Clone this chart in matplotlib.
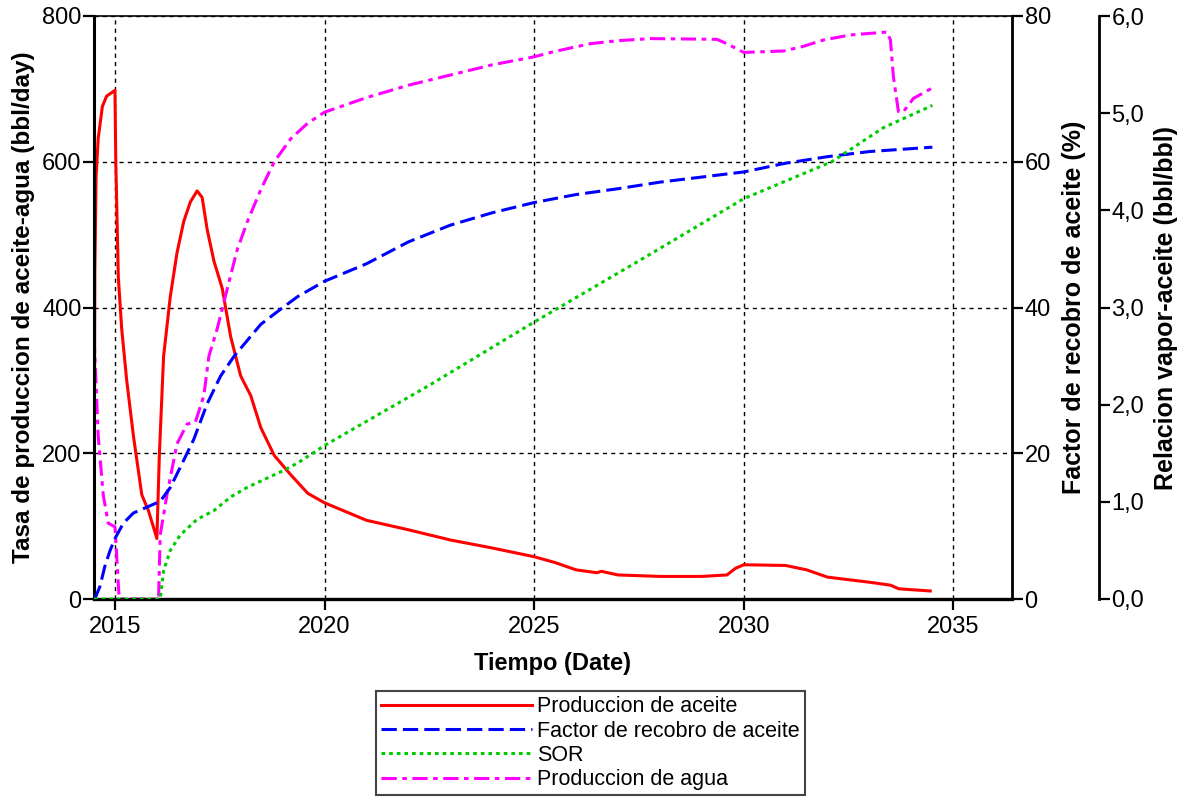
import matplotlib
matplotlib.use("agg")
import matplotlib.pyplot as plt
from matplotlib.ticker import FuncFormatter

plt.rcParams['font.family'] = ['Liberation Sans', 'DejaVu Sans']

# oil production (bbl/day), left axis
oil_t = [2014.5, 2014.52, 2014.55, 2014.6, 2014.7, 2014.8, 2014.9, 2015.0, 2015.02, 2015.08,
         2015.16, 2015.28, 2015.44, 2015.64, 2015.8, 2016.0, 2016.06, 2016.16, 2016.32, 2016.48,
         2016.64, 2016.8, 2016.96, 2017.08, 2017.2, 2017.36, 2017.56, 2017.76, 2018.0, 2018.24,
         2018.48, 2018.8, 2019.2, 2019.6, 2020.0, 2020.5, 2021, 2022, 2023, 2024,
         2025, 2025.5, 2026, 2026.5, 2026.6, 2027, 2028, 2029, 2029.6, 2029.8,
         2030, 2031, 2031.5, 2032, 2033, 2033.5, 2033.7, 2034.45]
oil_q = [0, 450, 580, 632, 676, 690, 694, 698, 600, 442,
         371, 300, 224, 143, 121, 83, 199, 333, 415, 475,
         518, 545, 560, 551, 507, 464, 426, 360, 306, 279,
         235, 197, 170, 145, 132, 120, 108, 95, 81, 70,
         58, 50, 40, 36, 38, 33, 31, 31, 33, 42,
         47, 46, 40, 30, 23, 19, 14, 11]

# water production (bbl/day), left axis
wat_t = [2014.5, 2014.51, 2014.6, 2014.72, 2014.84, 2015.0, 2015.04, 2015.1, 2016.04, 2016.08,
         2016.24, 2016.48, 2016.72, 2016.92, 2017.12, 2017.24, 2017.44, 2017.68, 2017.92, 2018.16,
         2018.48, 2018.8, 2019.2, 2019.6, 2020.0, 2021, 2022, 2023, 2024, 2025,
         2025.46, 2026.34, 2026.97, 2027.77, 2029.36, 2029.6, 2030.0, 2030.95, 2031.4, 2031.9,
         2032.54, 2033.42, 2033.5, 2033.57, 2033.69, 2033.8, 2034.05, 2034.49]
wat_q = [0, 349, 224, 143, 104, 99, 61, 0, 0, 88,
         143, 213, 240, 243, 279, 333, 371, 426, 480, 518,
         562, 600, 632, 653, 668, 688, 705, 719, 733, 744,
         751, 762, 766, 769, 768, 762, 750, 752, 758, 767,
         774, 778, 767, 717, 669, 668, 687, 701]

# recovery factor (%)
fr_t = [2014.5, 2014.52, 2014.64, 2014.76, 2014.88, 2015.0, 2015.2, 2015.44, 2015.76, 2016.08,
        2016.32, 2016.56, 2016.88, 2017.2, 2017.52, 2017.84, 2018.16, 2018.48, 2018.96, 2019.36,
        2020.0, 2021, 2022, 2023, 2024, 2025, 2026, 2027, 2028, 2029,
        2030, 2031, 2032, 2033, 2034.5]
fr_v = [0, 0, 1.7, 4.5, 6.6, 8.3, 10.4, 11.8, 12.6, 13.4,
        15.3, 18.1, 21.9, 26.8, 30.6, 33.3, 35.5, 37.7, 39.8, 41.5,
        43.6, 46.0, 49.0, 51.3, 53.0, 54.4, 55.5, 56.3, 57.2, 57.9,
        58.6, 59.8, 60.7, 61.4, 62.0]

# steam-oil ratio (bbl/bbl)
sor_t = [2014.5, 2016.08, 2016.16, 2016.32, 2016.56, 2016.96, 2017.36, 2017.76, 2018.16, 2018.56,
         2018.96, 2019.36, 2020.0, 2022.5, 2025.0, 2027.5, 2030.0, 2032.1, 2033.33, 2034.5]
sor_v = [0, 0, 0.29, 0.50, 0.66, 0.82, 0.91, 1.05, 1.15, 1.23,
         1.31, 1.40, 1.58, 2.2, 2.85, 3.48, 4.12, 4.5, 4.85, 5.08]

xticks = [2015, 2020, 2025, 2030, 2035]

fig = plt.figure(figsize=(11.88, 8.01), dpi=100)
ax = fig.add_axes([94/1188, 1-599/801, (1012-94)/1188, (599-16)/801])
ax2 = ax.twinx()
ax3 = ax.twinx()

l1, = ax.plot(oil_t, oil_q, color='#ff0000', lw=2.2, label='Produccion de aceite')
l4, = ax.plot(wat_t, wat_q, color='#ff00ff', lw=2.2, ls=(0, (5, 1.8, 1.5, 1.8)), label='Produccion de agua')
l2, = ax2.plot(fr_t, fr_v, color='#0000ff', lw=2.2, ls=(0, (5, 2)), label='Factor de recobro de aceite')
l3, = ax3.plot(sor_t, sor_v, color='#00cc00', lw=2.2, ls=(0, (1.2, 1.3)), label='SOR')

ax.set_xlim(2014.5, 2036.4)
ax.set_ylim(0, 800)
ax2.set_ylim(0, 80)
ax3.set_ylim(0, 6)
ax.set_xticks(xticks)
ax.set_yticks([0, 200, 400, 600, 800])
ax2.set_yticks([0, 20, 40, 60, 80])
ax3.set_yticks([0, 1, 2, 3, 4, 5, 6])
ax3.yaxis.set_major_formatter(FuncFormatter(lambda v, p: ('%.1f' % v).replace('.', ',')))

ax.grid(True, color='black', ls=(0, (3, 3)), lw=1)
ax.set_axisbelow(True)

ax3.spines['right'].set_position(('axes', 1.0948))
for s in ['top', 'left', 'bottom']:
    ax3.spines[s].set_visible(False)
    ax2.spines[s].set_visible(False)
ax.spines['left'].set_linewidth(2.2)
ax.spines['bottom'].set_linewidth(2.4)
ax.spines['top'].set_linewidth(1.2)
ax2.spines['right'].set_linewidth(2)
ax3.spines['right'].set_linewidth(2)

ax.tick_params(axis='x', direction='out', length=8, width=1.6, labelsize=17, pad=4)
ax.tick_params(axis='y', direction='out', length=8, width=1.6, labelsize=17, pad=1)
ax2.tick_params(axis='y', direction='out', length=8, width=1.6, labelsize=17, pad=1)
ax3.tick_params(axis='y', direction='out', length=8, width=1.6, labelsize=17, pad=1)

ax.set_xlabel('Tiempo (Date)', fontsize=17, fontweight='bold', labelpad=10)
ax.set_ylabel('Tasa de produccion de aceite-agua (bbl/day)', fontsize=17.5, fontweight='bold', labelpad=5)
ax2.set_ylabel('Factor de recobro de aceite (%)', fontsize=18, fontweight='bold', labelpad=8)
ax3.set_ylabel('Relacion vapor-aceite (bbl/bbl)', fontsize=18, fontweight='bold', labelpad=7)

leg = fig.legend([l1, l2, l3, l4], [l.get_label() for l in [l1, l2, l3, l4]],
                 loc='upper left', bbox_to_anchor=(376/1188, 1-691/801),
                 prop={'size': 15.5}, frameon=True, fancybox=False,
                 edgecolor='#444444', framealpha=1, handlelength=7.0, handletextpad=0.25,
                 labelspacing=0.15, borderpad=0.25, borderaxespad=0)
leg.get_frame().set_linewidth(1.5)

fig.savefig('out.png', dpi=100)
plt.close(fig)
